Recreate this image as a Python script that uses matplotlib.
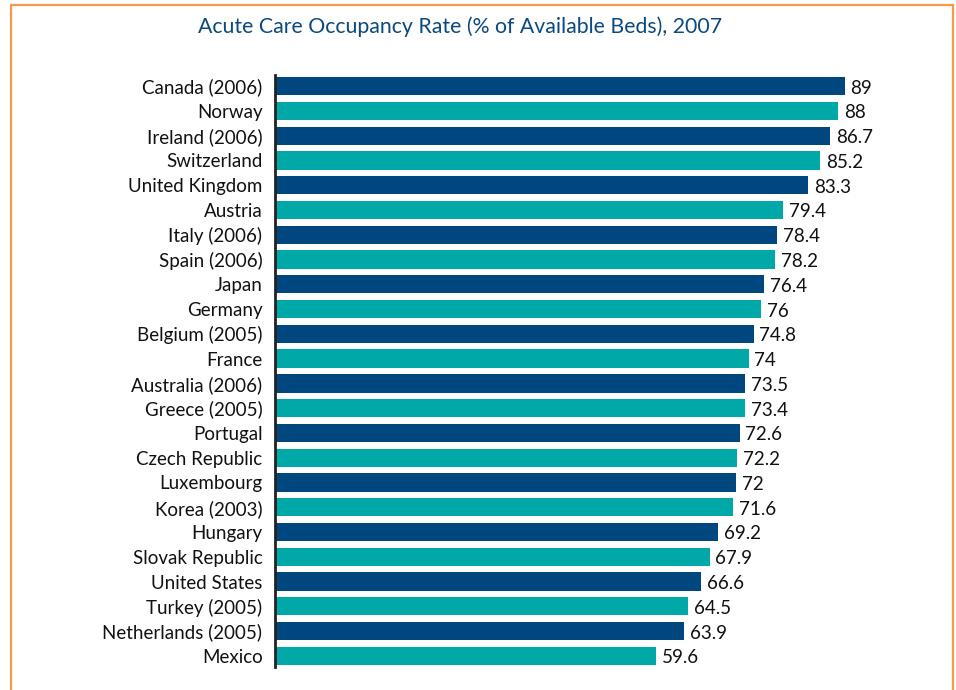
import matplotlib
matplotlib.use("Agg")
import matplotlib.pyplot as plt
from matplotlib.patches import Rectangle

countries = [
    "Canada (2006)", "Norway", "Ireland (2006)", "Switzerland", "United Kingdom",
    "Austria", "Italy (2006)", "Spain (2006)", "Japan", "Germany",
    "Belgium (2005)", "France", "Australia (2006)", "Greece (2005)", "Portugal",
    "Czech Republic", "Luxembourg", "Korea (2003)", "Hungary", "Slovak Republic",
    "United States", "Turkey (2005)", "Netherlands (2005)", "Mexico",
]
rates = [89, 88, 86.7, 85.2, 83.3, 79.4, 78.4, 78.2, 76.4, 76, 74.8, 74, 73.5,
         73.4, 72.6, 72.2, 72, 71.6, 69.2, 67.9, 66.6, 64.5, 63.9, 59.6]
rate_labels = ["89", "88", "86.7", "85.2", "83.3", "79.4", "78.4", "78.2", "76.4",
               "76", "74.8", "74", "73.5", "73.4", "72.6", "72.2", "72", "71.6",
               "69.2", "67.9", "66.6", "64.5", "63.9", "59.6"]

DARK = "#00467f"
TEAL = "#00a9a8"
plt.rcParams["font.family"] = ["Lato", "DejaVu Sans"]

W, H = 956, 690
fig = plt.figure(figsize=(W / 100, H / 100), dpi=100)
fig.patch.set_facecolor("white")

# orange frame (runs off the bottom edge)
fig.patches.append(Rectangle((11 / W, -0.05), (953 - 11) / W, 1.05 - 5 / H,
                             transform=fig.transFigure, fill=False,
                             edgecolor="#f79a4a", linewidth=1.6))

ax = fig.add_axes([275 / W, 1 - 667 / H, 640 / W, (667 - 75) / H])
colors = [DARK if i % 2 == 0 else TEAL for i in range(len(rates))]
ypos = list(range(len(rates)))
ax.barh(ypos, rates, height=0.74, color=colors)
for y, v, lab in zip(ypos, rates, rate_labels):
    ax.text(v + 0.9, y + 0.08, lab, va="center", ha="left", fontsize=13.5,
            color="#111111")

ax.set_xlim(0, 100)
ax.set_ylim(len(rates) - 0.55, -0.45)
ax.set_yticks(ypos)
ax.set_yticklabels(countries, fontsize=13.5, color="#111111")
ax.tick_params(axis="y", length=0, pad=9)
ax.set_xticks([])
for s in ["top", "right", "bottom"]:
    ax.spines[s].set_visible(False)
ax.spines["left"].set_linewidth(2)
ax.spines["left"].set_color("#222222")

fig.text(460 / W, 1 - 27 / H, "Acute Care Occupancy Rate (% of Available Beds), 2007",
         ha="center", va="center", fontsize=15.3, color="#0b4a80")

fig.savefig("out.png", dpi=100)
